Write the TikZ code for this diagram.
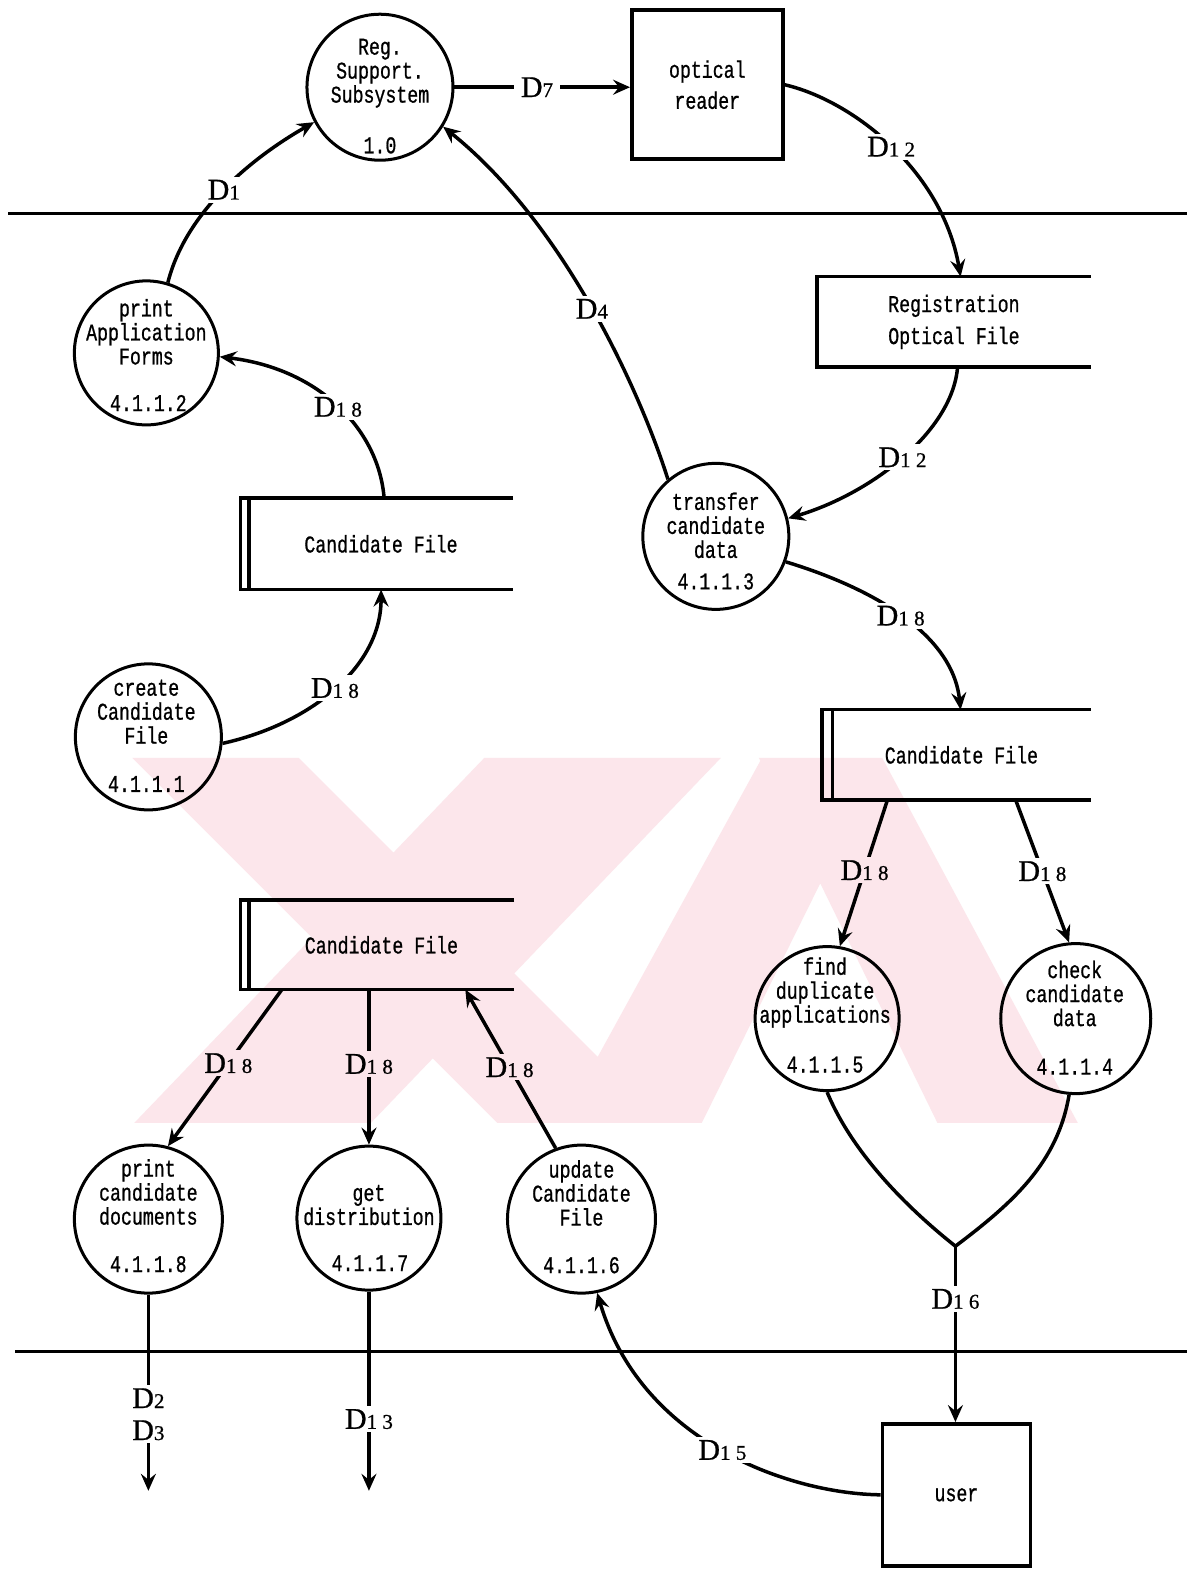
\documentclass[tikz,border=0pt]{standalone}
\usepackage{fontspec}
\setmainfont{Liberation Serif}[FakeBold=0.8]
\newfontfamily\dotfont[FakeStretch=0.76,FakeBold=0.8]{Liberation Mono}
\usetikzlibrary{arrows.meta,calc}
\newcommand\dsub[1]{{\fontsize{21}{21}\selectfont #1}}
\definecolor{wm}{RGB}{252,230,235}
\begin{document}
\begin{tikzpicture}[x=1.0025pt,y=-1.0025pt,
  proc/.style={circle, draw, line width=3pt, inner sep=0pt, minimum size=#1},
  dtxt/.style={font=\dotfont\fontsize{24}{24}\selectfont, align=center, inner sep=0pt},
  lab/.style={fill=white, inner xsep=7pt, inner ysep=3pt, font=\fontsize{30}{30}\selectfont},
  flow/.style={line width=3.5pt, -{Stealth[length=17pt,width=15pt,inset=6pt]}},
  plain/.style={line width=3.5pt},
  ent/.style={rectangle, draw, line width=3.5pt, inner sep=0pt, align=center, font=\dotfont\fontsize{24}{31}\selectfont},
  store/.style={rectangle, inner sep=0pt, align=center, font=\dotfont\fontsize{24}{32}\selectfont},
  sepline/.style={line width=3pt}]
\useasboundingbox[fill=white] (0,0) rectangle (1184,1568);
% separators
\draw[sepline] (8,213) -- (1184,213);
\draw[sepline] (15,1348) -- (1184,1348);
% processes
\node[proc=146] (reg) at (379,87) {};
\node[dtxt] (regT) at (379,73) {Reg.\\Support.\\Subsystem};
\node[dtxt] (regN) at (379,145) {1.0};
\node[proc=144] (paf) at (146,352) {};
\node[dtxt] (pafT) at (146,331) {print\\Application\\Forms};
\node[dtxt] (pafN) at (148,402) {4.1.1.2};
\node[proc=146] (tcd) at (714,535) {};
\node[dtxt] (tcdT) at (714,524) {transfer\\candidate\\data};
\node[dtxt] (tcdN) at (714,580) {4.1.1.3};
\node[proc=146] (ccf) at (148,735) {};
\node[dtxt] (ccfT) at (146,710) {create\\Candidate\\File};
\node[dtxt] (ccfN) at (146,782) {4.1.1.1};
\node[proc=144] (fda) at (825,1016) {};
\node[dtxt] (fdaT) at (823,990) {find\\duplicate\\applications};
\node[dtxt] (fdaN) at (823,1062) {4.1.1.5};
\node[proc=150] (ccd) at (1073,1016) {};
\node[dtxt] (ccdT) at (1072,991) {check\\candidate\\data};
\node[dtxt] (ccdN) at (1072,1064) {4.1.1.4};
\node[proc=148] (pcd) at (148,1216) {};
\node[dtxt] (pcdT) at (148,1189) {print\\candidate\\documents};
\node[dtxt] (pcdN) at (148,1261) {4.1.1.8};
\node[proc=144] (gd) at (368,1215) {};
\node[dtxt] (gdT) at (368,1202) {get\\distribution};
\node[dtxt] (gdN) at (369,1260) {4.1.1.7};
\node[proc=148] (ucf) at (580,1216) {};
\node[dtxt] (ucfT) at (580,1190) {update\\Candidate\\File};
\node[dtxt] (ucfN) at (580,1262) {4.1.1.6};
% external entities
\node[ent, minimum width=151, minimum height=149] (optrd) at (705.5,84.5) {optical\\reader};
\node[ent, minimum width=148, minimum height=142] (user) at (954,1491) {user};
% stores
\node[store, minimum width=273, minimum height=90] (regopt) at (951.5,321) {Registration\\Optical File};
\draw[plain] (regopt.north east) -- (regopt.north west) -- (regopt.south west) -- (regopt.south east);
\node[store, minimum width=264, minimum height=91] (cfA) at (380,542.5) {Candidate File};
\draw[plain] (cfA.north east) -- ($(cfA.north west)+(-8,0)$) -- ($(cfA.south west)+(-8,0)$) -- (cfA.south east);
\draw[plain] (cfA.north west) -- (cfA.south west);
\node[store, minimum width=265, minimum height=89] (cfB) at (380.5,942.5) {Candidate File};
\draw[plain] (cfB.north east) -- ($(cfB.north west)+(-8,0)$) -- ($(cfB.south west)+(-8,0)$) -- (cfB.south east);
\draw[plain] (cfB.north west) -- (cfB.south west);
\node[store, minimum width=258, minimum height=90] (cfC) at (959,753) {Candidate File};
\draw[plain] (cfC.north east) -- ($(cfC.north west)+(-10,0)$) -- ($(cfC.south west)+(-10,0)$) -- (cfC.south east);
\draw[plain] (cfC.north west) -- (cfC.south west);
% flows
\draw[flow] (reg.east) -- node[lab, pos=0.47] (lD7) {D\dsub{7}} (reg.east -| optrd.west);
\draw[flow] (paf.73) .. controls (185,212) and (250,158) .. node[lab] (lD1) {D\dsub{1}} (reg.208);
\draw[flow] ($(cfA.north west)+(135,0)$) .. controls (378,430) and (320,368) .. node[lab] (lA1) {D\dsub{1 8}} (paf.-3);
\draw[flow] (ccf.-5) .. controls (310,722) and (380,665) .. node[lab] (lA2) {D\dsub{1 8}} ($(cfA.south west)+(132,0)$);
\draw[flow] (optrd.east) .. controls (850,100) and (940,170) .. node[lab] (lR1) {D\dsub{1 2}} ($(regopt.north west)+(143,0)$);
\draw[flow] ($(regopt.south west)+(140,0)$) .. controls (950,430) and (870,492) .. node[lab] (lR2) {D\dsub{1 2}} (tcd.14);
\draw[flow] (tcd.130) .. controls (640,395) and (565,225) .. node[lab] (lD4) {D\dsub{4}} (reg.-32);
\draw[flow] (tcd.-20) .. controls (865,585) and (950,630) .. node[lab] (lR3) {D\dsub{1 8}} ($(cfC.north west)+(128,0)$);
\draw[flow] ($(cfC.south west)+(55,0)$) -- node[lab, pos=0.48] (lC1) {D\dsub{1 8}} (fda.80);
\draw[flow] ($(cfC.south west)+(183,0)$) -- node[lab, pos=0.5] (lC2) {D\dsub{1 8}} (ccd.95);
\coordinate (j) at (953,1243);
\draw[plain] (fda.south) .. controls (850,1150) and (905,1205) .. (j) .. controls (1010,1200) and (1055,1160) .. (ccd.-95);
\draw[flow] (j) -- node[lab, pos=0.3] (lU1) {D\dsub{1 6}} (j |- user.north);
\draw[flow] (user.west) .. controls (790,1490) and (640,1440) .. node[lab] (lU2) {D\dsub{1 5}} (ucf.-78);
\draw[flow] ($(cfB.south west)+(33,0)$) -- node[lab, pos=0.47] (lB1) {D\dsub{1 8}} (pcd.75);
\draw[flow] (gd.north |- cfB.south) -- node[lab, pos=0.48] (lB2) {D\dsub{1 8}} (gd.north);
\draw[flow] (ucf.110) -- node[lab, pos=0.51] (lB3) {D\dsub{1 8}} ($(cfB.south west)+(216,0)$);
\coordinate (outA) at (148,1487);
\coordinate (outB) at (368,1487);
\draw[flow] (pcd.south) -- node[lab, pos=0.61, align=center, font=\fontsize{30}{32}\selectfont] (lO1) {D\dsub{2}\\D\dsub{3}} (outA);
\draw[flow] (gd.south) -- node[lab, pos=0.64] (lO2) {D\dsub{1 3}} (outB);
% watermark (one path, multiplied over the drawing)
\begin{scope}[blend mode=multiply]
\fill[wm, nonzero rule]
  (132,756) -- (298,756) -- (662,1120) -- (496,1120) -- cycle
  (483,756) -- (719,756) -- (370,1120) -- (134,1120) -- cycle
  (757,756) -- (880,756) -- (1075,1120) -- (935,1120) -- cycle
  (760,756) -- (880,756) -- (700,1120) -- (560,1120) -- cycle;
\end{scope}
\end{tikzpicture}
\end{document}
